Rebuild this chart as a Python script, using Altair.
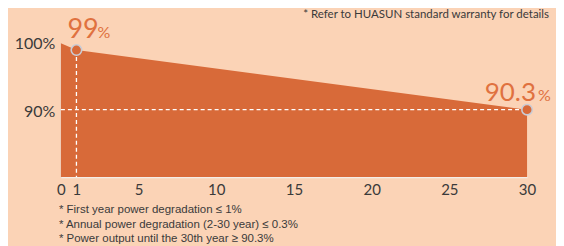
import altair as alt
import pandas as pd

# ---- data ----
years = [0, 1, 30]
output = [100, 99, 90.3]
marked_years = [1, 30]
marked_output = [99, 90.3]
marked_labels = ["99", "90.3"]
x_ticks = [0, 1, 5, 10, 15, 20, 25, 30]
y_ticks = [90, 100]
Y_MIN = 80.5
Y_MAX = 100
header = "*  Refer to HUASUN standard warranty for details"
notes = [
    "* First year power degradation \u2264 1%",
    "* Annual power degradation (2-30 year) \u2264 0.3%",
    "* Power output until the 30th year \u2265 90.3%",
]

AREA = "#D86A39"
LABEL = "#E0713F"
TEXT = "#3A3A3A"
BG = "#FBD3B6"

curve = pd.DataFrame({"year": years, "output": output})
marks = pd.DataFrame({"year": marked_years, "output": marked_output, "label": marked_labels})
first = marks.iloc[[0]]
last = marks.iloc[[1]]
hline = pd.DataFrame({"x0": [years[0]], "x1": [marked_years[-1]], "y": [marked_output[-1]]})

xs = alt.Scale(domain=[0, 30], nice=False)
ys = alt.Scale(domain=[Y_MIN, Y_MAX], zero=False, nice=False)

area = alt.Chart(curve).mark_area(color=AREA, opacity=1).encode(
    x=alt.X("year:Q", scale=xs,
            axis=alt.Axis(values=x_ticks, format="d", title=None, grid=False, ticks=False,
                          labelPadding=6, labelFontSize=15, labelColor=TEXT, labelFont="Lato",
                          domainColor="#F4EDE8", domainWidth=1.5, labelFlush=False)),
    y=alt.Y("output:Q", scale=ys,
            axis=alt.Axis(values=y_ticks, title=None, grid=False, ticks=False,
                          labelExpr="datum.value + '%'", labelPadding=6, labelFontSize=16,
                          labelColor=TEXT, labelFont="Lato", domainColor="#E6E2E2",
                          domainWidth=1.5)),
    y2=alt.datum(Y_MIN),
)

vrule = alt.Chart(first).mark_rule(color="white", strokeDash=[4, 3], strokeWidth=1.3).encode(
    x="year:Q", y="output:Q", y2=alt.datum(Y_MIN)
)

hrule = alt.Chart(hline).mark_rule(color="white", strokeDash=[4, 3], strokeWidth=1.3).encode(
    x="x0:Q", x2="x1:Q", y="y:Q"
)

pts = alt.Chart(marks).mark_point(
    filled=True, fill=AREA, stroke="#C9CCD6", strokeWidth=1.6, size=110, opacity=1
).encode(x="year:Q", y="output:Q")

lab1 = alt.Chart(first).mark_text(
    align="left", baseline="alphabetic", dx=-9, dy=-12, fontSize=27,
    font="Lato", color=LABEL
).encode(x="year:Q", y="output:Q", text="label:N")
pct1 = alt.Chart(first).mark_text(
    align="left", baseline="alphabetic", dx=21, dy=-12, fontSize=16,
    font="Lato", color=LABEL
).encode(x="year:Q", y="output:Q", text=alt.value("%"))

lab2 = alt.Chart(last).mark_text(
    align="right", baseline="alphabetic", dx=9, dy=-9, fontSize=26,
    font="Lato", color=LABEL
).encode(x="year:Q", y="output:Q", text="label:N")
pct2 = alt.Chart(last).mark_text(
    align="left", baseline="alphabetic", dx=11, dy=-9, fontSize=16,
    font="Lato", color=LABEL
).encode(x="year:Q", y="output:Q", text=alt.value("%"))

head = alt.Chart(pd.DataFrame({"t": [header]})).mark_text(
    align="right", baseline="middle", fontSize=11.5, font="Lato", color=TEXT
).encode(x=alt.value(489), y=alt.value(-28), text="t:N")

foot_layers = []
for i, note in enumerate(notes):
    foot_layers.append(
        alt.Chart(pd.DataFrame({"t": [note]})).mark_text(
            align="left", baseline="middle", fontSize=11.5, font="Liberation Sans", color=TEXT
        ).encode(x=alt.value(-2), y=alt.value(167.5 + 14.5 * i), text="t:N")
    )

chart = alt.layer(area, vrule, hrule, pts, lab1, pct1, lab2, pct2, head, *foot_layers).properties(
    width=467, height=134,
    autosize=alt.AutoSizeParams(type="none"),
    padding={"left": 53, "top": 35, "right": 29, "bottom": 70},
    background=BG,
).configure_view(stroke=None)

chart.save("out.html", embed_options={"renderer": "svg", "actions": False})
